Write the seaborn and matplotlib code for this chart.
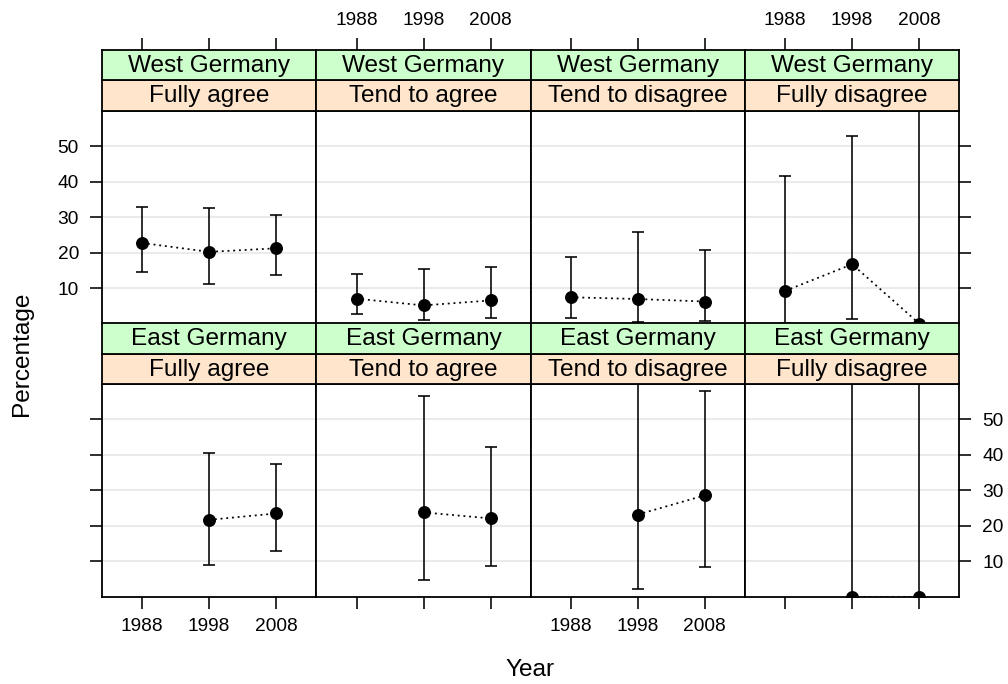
import numpy as np
import pandas as pd
import seaborn as sns
import matplotlib.pyplot as plt

# ---- data -------------------------------------------------------------
years = [1988, 1998, 2008]
regions = ["West Germany", "East Germany"]
responses = ["Fully agree", "Tend to agree", "Tend to disagree", "Fully disagree"]

# estimates and confidence bounds, one inner list per response (years 1988, 1998, 2008)
west_est = [[22.7, 20.2, 21.2], [7.0, 5.1, 6.5], [7.4, 6.9, 6.2], [9.2, 16.7, 0.0]]
west_lo = [[14.5, 11.0, 13.6], [2.8, 0.9, 1.6], [1.6, 0.5, 0.8], [0.2, 1.3, -70.0]]
west_hi = [[32.8, 32.7, 30.5], [14.0, 15.3, 15.9], [18.8, 25.8, 20.7], [41.5, 53.0, 70.0]]

nan = np.nan
east_est = [[nan, 21.7, 23.5], [nan, 23.8, 22.1], [nan, 23.2, 28.6], [nan, 0.0, 0.0]]
east_lo = [[nan, 9.0, 12.8], [nan, 4.8, 8.6], [nan, 2.2, 8.4], [nan, -70.0, -70.0]]
east_hi = [[nan, 40.5, 37.5], [nan, 56.7, 42.3], [nan, 70.0, 58.1], [nan, 70.0, 70.0]]

y_ticks = [10, 20, 30, 40, 50]

rows = []
for region, est, lo, hi in [("West Germany", west_est, west_lo, west_hi),
                            ("East Germany", east_est, east_lo, east_hi)]:
    for r, resp in enumerate(responses):
        for k, yr in enumerate(years):
            rows.append(dict(region=region, response=resp, year=yr,
                             est=est[r][k], lo=lo[r][k], hi=hi[r][k]))
df = pd.DataFrame(rows)

# ---- style ------------------------------------------------------------
sns.set_theme(style="white")
plt.rcParams["font.family"] = ["Liberation Sans", "DejaVu Sans"]
plt.rcParams["axes.edgecolor"] = "black"
plt.rcParams["axes.linewidth"] = 1.3

W, H = 1008, 684
STRIP_FS = 17.6
TICK_FS = 13.8
GREEN = "#ccffcc"
ORANGE = "#ffe5cc"


def draw_ci(data, color=None, label=None, **kws):
    ax = plt.gca()
    ax.errorbar(data["year"], data["est"],
                yerr=[data["est"] - data["lo"], data["hi"] - data["est"]],
                fmt="none", ecolor="black", elinewidth=1.15, capsize=4.6,
                capthick=1.15, zorder=2)
    ax.plot(data["year"], data["est"], color="black", lw=1.25,
            linestyle=(0, (1.1, 2.2)), zorder=2)
    ax.plot(data["year"], data["est"], "o", color="black", ms=8.3, zorder=3)


g = sns.FacetGrid(df, row="region", col="response", row_order=regions,
                  col_order=responses, sharex=True, sharey=True,
                  height=2.2, aspect=1.0)
g.map_dataframe(draw_ci)
g.figure.set_size_inches(W / 100, H / 100)
fig = g.figure

# panel geometry in pixels
col_edges = [102.0, 316.3, 530.7, 745.0, 959.3]
panel_tops = [110.7, 384.0]
panel_h = 212.8
strip_h = 30.4
xlim = (1982, 2014)
ylim = (0, 60)
tick_len = 8.6

for i, region in enumerate(regions):
    for j, resp in enumerate(responses):
        ax = g.axes[i, j]
        left = col_edges[j]
        w = col_edges[j + 1] - col_edges[j]
        top = panel_tops[i]
        ax.set_position([left / W, 1 - (top + panel_h) / H, w / W, panel_h / H])
        ax.set_title("")
        ax.set_xlabel("")
        ax.set_ylabel("")
        ax.set_xlim(*xlim)
        ax.set_ylim(*ylim)
        ax.set_xticks(years)
        ax.set_yticks(y_ticks)
        ax.set_xticklabels([str(y) for y in years])
        ax.set_yticklabels([str(v) for v in y_ticks])
        ax.grid(axis="y", color="#e6e6e6", lw=1.1)
        ax.grid(axis="x", visible=False)
        ax.set_axisbelow(True)
        for sp in ax.spines.values():
            sp.set_visible(True)
            sp.set_color("black")

        # x ticks: bottom row only (top-row ticks live on the strips)
        if i == 1:
            ax.tick_params(axis="x", bottom=True, top=False,
                           labelbottom=(j in (0, 2)), labeltop=False,
                           direction="out", length=tick_len, width=1.15,
                           pad=6.8, labelsize=TICK_FS, colors="black")
        else:
            ax.tick_params(axis="x", bottom=False, top=False,
                           labelbottom=False, labeltop=False)
        # y ticks: outer columns only, labels alternate sides
        ax.tick_params(axis="y", left=(j == 0), right=(j == 3),
                       labelleft=(j == 0 and i == 0),
                       labelright=(j == 3 and i == 1),
                       direction="out", length=tick_len, width=1.15,
                       pad=8.0, labelsize=TICK_FS, colors="black")

        # two stacked strips: response (orange) next to the panel, region (green) above
        for k, (txt, colr) in enumerate([(resp, ORANGE), (region, GREEN)]):
            s_bottom = top - strip_h * (k + 1)
            sax = fig.add_axes([left / W, 1 - (s_bottom + strip_h) / H,
                                w / W, strip_h / H])
            sax.set_facecolor(colr)
            sax.set_xlim(*xlim)
            sax.set_ylim(0, 1)
            sax.set_yticks([])
            for sp in sax.spines.values():
                sp.set_visible(True)
                sp.set_color("black")
                sp.set_linewidth(1.3)
            sax.text(0.5, 0.47, txt, transform=sax.transAxes, ha="center",
                     va="center", fontsize=STRIP_FS, color="black")
            if i == 0 and k == 1:
                sax.set_xticks(years)
                sax.set_xticklabels([str(y) for y in years])
                sax.tick_params(axis="x", top=True, bottom=False,
                                labeltop=(j in (1, 3)), labelbottom=False,
                                direction="out", length=tick_len, width=1.15,
                                pad=6.3, labelsize=TICK_FS, colors="black")
            else:
                sax.set_xticks([])
            sax.grid(False)

fig.text(530.5 / W, 1 - 670 / H, "Year", ha="center", va="center",
         fontsize=STRIP_FS, color="black")
fig.text(22 / W, 1 - 354 / H, "Percentage", ha="center", va="center",
         rotation=90, fontsize=STRIP_FS, color="black")

fig.savefig("out.png", dpi=100, facecolor="white")
